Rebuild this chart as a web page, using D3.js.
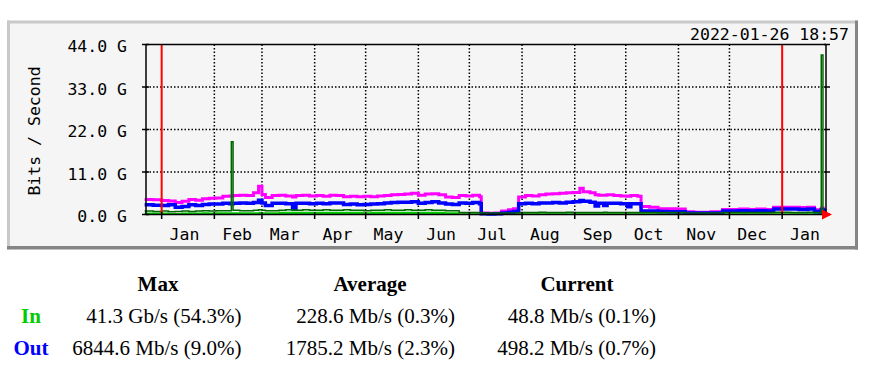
<!DOCTYPE html>
<html lang="en">
<head>
    <meta charset="UTF-8">
    <title>MRTG yearly graph</title>
    <style>
        body {
            margin: 0;
            background: #ffffff;
        }
        svg {
            display: block;
        }
        .mono {
            font-family: "DejaVu Sans Mono", monospace;
            font-size: 16.5px;
            fill: #000;
        }
        .serif {
            font-family: "Liberation Serif", "Times New Roman", serif;
            font-size: 21px;
            fill: #000;
        }
        .grid {
            stroke: #000;
            stroke-width: 1.5px;
            stroke-dasharray: 1.5, 2;
        }
        .axis {
            stroke: #000;
            stroke-width: 1.5px;
        }
    </style>
</head>
<body>

<div id="chart"></div>

<script src="https://d3js.org/d3.v7.min.js"></script>
<script>
    // sample days (one value per day bucket, held until the next one)
    const dates = [
        "2020-12-22", "2020-12-27", "2021-01-01", "2021-01-05", "2021-01-09",
        "2021-01-13", "2021-01-17", "2021-01-21", "2021-01-25", "2021-01-29",
        "2021-02-02", "2021-02-06", "2021-02-10", "2021-02-11", "2021-02-12",
        "2021-02-16", "2021-02-20", "2021-02-24", "2021-02-27", "2021-03-01",
        "2021-03-03", "2021-03-07", "2021-03-11", "2021-03-15", "2021-03-19",
        "2021-03-21", "2021-03-25", "2021-03-29", "2021-04-02", "2021-04-06",
        "2021-04-10", "2021-04-14", "2021-04-18", "2021-04-22", "2021-04-26",
        "2021-04-30", "2021-05-04", "2021-05-08", "2021-05-12", "2021-05-16",
        "2021-05-20", "2021-05-24", "2021-05-28", "2021-06-01", "2021-06-05",
        "2021-06-09", "2021-06-13", "2021-06-17", "2021-06-21", "2021-06-25",
        "2021-06-29", "2021-07-03", "2021-07-07", "2021-07-08", "2021-07-12",
        "2021-07-16", "2021-07-20", "2021-07-24", "2021-07-27", "2021-07-30",
        "2021-08-03", "2021-08-07", "2021-08-11", "2021-08-15", "2021-08-19",
        "2021-08-23", "2021-08-27", "2021-08-31", "2021-09-04", "2021-09-06",
        "2021-09-10", "2021-09-13", "2021-09-15", "2021-09-18", "2021-09-20",
        "2021-09-24", "2021-09-28", "2021-10-02", "2021-10-04", "2021-10-08",
        "2021-10-10", "2021-10-15", "2021-10-20", "2021-10-26", "2021-10-31",
        "2021-11-05", "2021-11-10", "2021-11-15", "2021-11-20", "2021-11-27",
        "2021-12-02", "2021-12-07", "2021-12-12", "2021-12-17", "2021-12-22",
        "2021-12-27", "2022-01-01", "2022-01-06", "2022-01-11", "2022-01-16",
        "2022-01-20", "2022-01-23", "2022-01-24", "2022-01-25", "2022-01-26"
    ];

    // Gb/s
    const outMax = [
        3.9, 3.8, 3.6, 3.5, 3.1, 3.4, 3.9, 3.7, 4.1, 4.2,
        4.3, 4.7, 4.8, 4.8, 4.9, 5.0, 4.9, 5.6, 7.3, 5.2,
        4.4, 4.9, 5.0, 4.8, 4.5, 4.9, 5.0, 4.8, 4.9, 4.7,
        5.0, 4.9, 4.6, 4.7, 4.6, 4.7, 4.6, 4.8, 4.9, 5.1,
        5.2, 5.3, 5.5, 5.0, 5.3, 5.4, 5.1, 4.5, 4.4, 4.9,
        4.8, 5.0, 4.6, 0.4, 0.3, 0.4, 0.9, 1.2, 1.5, 4.5,
        4.9, 4.8, 5.1, 5.3, 5.4, 5.5, 5.6, 5.7, 6.8, 5.9,
        5.6, 5.1, 5.0, 5.0, 5.1, 4.9, 4.8, 4.7, 4.9, 4.7,
        2.1, 1.9, 1.5, 1.5, 1.4, 0.7, 0.6, 0.6, 0.7, 1.3,
        1.3, 1.4, 1.3, 1.4, 1.3, 1.9, 1.9, 1.9, 1.8, 1.9,
        1.2, 1.1, 1.6, 1.7, 1.7
    ];
    const outAvg = [
        2.5, 2.4, 2.3, 2.5, 1.9, 2.1, 2.5, 2.3, 2.6, 2.7,
        2.7, 2.9, 2.8, 2.8, 2.9, 3.0, 2.9, 3.1, 3.7, 3.0,
        2.3, 2.9, 2.9, 2.8, 1.5, 2.9, 2.9, 2.8, 2.9, 2.8,
        3.0, 3.0, 2.6, 2.7, 2.5, 2.6, 2.7, 2.8, 3.0, 3.1,
        3.2, 3.2, 3.3, 2.9, 3.1, 3.3, 3.0, 2.7, 2.6, 3.0,
        2.9, 3.1, 2.8, 0.2, 0.15, 0.2, 0.4, 0.6, 0.8, 2.8,
        2.9, 2.8, 3.0, 3.0, 3.1, 3.0, 3.2, 3.3, 3.6, 3.4,
        3.2, 2.2, 2.9, 2.3, 2.9, 2.9, 2.8, 2.0, 2.8, 2.8,
        0.9, 0.9, 0.8, 0.7, 0.7, 0.4, 0.4, 0.4, 0.4, 0.9,
        0.9, 1.0, 0.9, 1.0, 0.9, 1.4, 1.4, 1.4, 1.3, 1.4,
        0.8, 0.7, 1.2, 1.1, 0.5
    ];
    const inMax = [
        0.9, 0.8, 0.9, 0.7, 0.8, 0.9, 0.8, 0.9, 1.0, 0.9,
        1.0, 1.0, 1.0, 18.8, 1.1, 1.0, 1.0, 1.1, 1.2, 1.1,
        1.0, 1.0, 1.1, 1.2, 1.1, 1.1, 1.2, 1.1, 1.1, 1.2,
        1.1, 1.1, 1.2, 1.1, 1.1, 1.0, 1.1, 1.1, 1.2, 1.1,
        1.1, 1.2, 1.1, 1.1, 1.2, 1.1, 1.1, 1.0, 1.0, 0.5,
        0.5, 0.5, 0.5, 0.4, 0.4, 0.4, 0.4, 0.4, 0.4, 0.5,
        0.5, 0.5, 0.6, 0.5, 0.5, 0.5, 0.6, 0.5, 0.5, 0.5,
        0.5, 0.5, 0.5, 0.6, 0.5, 0.5, 0.5, 0.5, 0.5, 0.5,
        0.5, 0.5, 0.5, 0.5, 0.5, 0.4, 0.4, 0.4, 0.4, 0.5,
        0.5, 0.5, 0.5, 0.5, 0.5, 0.6, 0.6, 0.5, 0.5, 0.6,
        0.5, 0.5, 41.3, 0.5, 0.4
    ];
    const inAvg = [
        0.5, 0.5, 0.5, 0.4, 0.4, 0.5, 0.5, 0.5, 0.6, 0.5,
        0.6, 0.6, 0.6, 0.6, 0.6, 0.6, 0.6, 0.6, 0.7, 0.6,
        0.6, 0.6, 0.7, 0.7, 0.7, 0.7, 0.7, 0.7, 0.7, 0.7,
        0.7, 0.7, 0.7, 0.7, 0.7, 0.6, 0.7, 0.7, 0.7, 0.7,
        0.7, 0.7, 0.7, 0.7, 0.7, 0.7, 0.7, 0.6, 0.6, 0.3,
        0.3, 0.3, 0.3, 0.2, 0.2, 0.2, 0.2, 0.2, 0.2, 0.3,
        0.3, 0.3, 0.3, 0.3, 0.3, 0.3, 0.3, 0.3, 0.3, 0.3,
        0.3, 0.3, 0.3, 0.3, 0.3, 0.3, 0.3, 0.3, 0.3, 0.3,
        0.3, 0.3, 0.3, 0.3, 0.3, 0.2, 0.2, 0.2, 0.2, 0.3,
        0.3, 0.3, 0.3, 0.3, 0.3, 0.3, 0.3, 0.3, 0.3, 0.3,
        0.3, 0.3, 0.3, 0.2, 0.05
    ];

    const yTicks = [0, 11, 22, 33, 44];
    const yTickLabels = ["0.0 G", "11.0 G", "22.0 G", "33.0 G", "44.0 G"];
    const monthLabels = ["Jan", "Feb", "Mar", "Apr", "May", "Jun", "Jul",
                         "Aug", "Sep", "Oct", "Nov", "Dec", "Jan"];
    const yTitle = "Bits / Second";
    const stamp = "2022-01-26 18:57";

    const statHeaders = ["Max", "Average", "Current"];
    const statRows = [
        {name: "In", color: "#00cc00",
         values: ["41.3 Gb/s (54.3%)", "228.6 Mb/s (0.3%)", "48.8 Mb/s (0.1%)"]},
        {name: "Out", color: "#0000ff",
         values: ["6844.6 Mb/s (9.0%)", "1785.2 Mb/s (2.3%)", "498.2 Mb/s (0.7%)"]}
    ];

    const width = 889;
    const height = 375;

    const parse = d3.timeParse("%Y-%m-%d");
    const series = dates.map((d, i) => ({
        date: parse(d),
        outMax: outMax[i],
        outAvg: outAvg[i],
        inMax: inMax[i],
        inAvg: inAvg[i]
    }));

    const svg = d3.select("#chart")
        .append("svg")
        .attr("width", width)
        .attr("height", height);

    // grey bevelled panel
    svg.append("rect").attr("x", 7).attr("y", 21).attr("width", 851).attr("height", 228)
        .attr("fill", "#f5f5f5");
    svg.append("rect").attr("x", 7).attr("y", 20.5).attr("width", 851).attr("height", 3)
        .attr("fill", "#c9c9c9");
    svg.append("rect").attr("x", 7).attr("y", 20.5).attr("width", 3).attr("height", 229)
        .attr("fill", "#c9c9c9");
    svg.append("rect").attr("x", 7).attr("y", 246).attr("width", 851).attr("height", 3.5)
        .attr("fill", "#858585");
    svg.append("rect").attr("x", 855).attr("y", 20.5).attr("width", 3).attr("height", 229)
        .attr("fill", "#858585");

    const x = d3.scaleTime()
        .domain([new Date(2020, 11, 22, 18, 57), new Date(2022, 0, 26, 18, 57)])
        .range([146, 826]);
    const y = d3.scaleLinear()
        .domain([0, 44])
        .range([214.5, 44.5]);

    const [x0, x1] = x.range();
    const monthStarts = d3.timeMonth.range(new Date(2021, 0, 1), new Date(2022, 0, 2));
    const labelDays = monthStarts.map(m => d3.timeDay.offset(m, 14));

    // dotted grid
    svg.selectAll(".hgrid")
        .data(yTicks.filter(v => v > 0 && v < 44))
        .enter().append("line")
        .attr("class", "grid")
        .attr("x1", x0).attr("x2", x1)
        .attr("y1", d => y(d)).attr("y2", d => y(d));

    svg.selectAll(".vgrid")
        .data(monthStarts.filter(m => m.getMonth() !== 0))
        .enter().append("line")
        .attr("class", "grid")
        .attr("x1", d => x(d)).attr("x2", d => x(d))
        .attr("y1", y(44)).attr("y2", y(0));

    // traffic
    svg.append("path")
        .datum(series)
        .attr("fill", "#00cc00")
        .attr("d", d3.area().curve(d3.curveStepAfter)
            .x(d => x(d.date)).y0(y(0)).y1(d => y(d.inAvg)));

    svg.append("path")
        .datum(series)
        .attr("fill", "none")
        .attr("stroke", "#ff00ff")
        .attr("stroke-width", 3)
        .attr("d", d3.line().curve(d3.curveStepAfter)
            .x(d => x(d.date)).y(d => y(d.outMax)));

    svg.append("path")
        .datum(series)
        .attr("fill", "none")
        .attr("stroke", "#0000ff")
        .attr("stroke-width", 3.5)
        .attr("d", d3.line().curve(d3.curveStepAfter)
            .x(d => x(d.date)).y(d => y(d.outAvg)));

    svg.append("path")
        .datum(series)
        .attr("fill", "none")
        .attr("stroke", "#006600")
        .attr("stroke-width", 1.5)
        .attr("d", d3.line().curve(d3.curveStepAfter)
            .x(d => x(d.date)).y(d => y(d.inMax)));

    // new year markers
    svg.selectAll(".year")
        .data(monthStarts.filter(m => m.getMonth() === 0))
        .enter().append("line")
        .attr("stroke", "#ff0000")
        .attr("stroke-width", 2)
        .attr("x1", d => x(d)).attr("x2", d => x(d))
        .attr("y1", y(44)).attr("y2", y(0));

    // frame and ticks
    svg.append("line").attr("class", "axis")
        .attr("x1", x0).attr("x2", x0).attr("y1", y(44)).attr("y2", y(0));
    svg.append("line").attr("class", "axis")
        .attr("x1", x1).attr("x2", x1).attr("y1", y(44)).attr("y2", y(0));
    svg.append("line").attr("class", "axis")
        .attr("x1", x0).attr("x2", x1).attr("y1", y(44)).attr("y2", y(44));
    svg.append("line").attr("class", "axis")
        .attr("x1", x0).attr("x2", x1).attr("y1", y(0)).attr("y2", y(0));

    svg.selectAll(".ltick")
        .data(yTicks)
        .enter().append("line").attr("class", "axis")
        .attr("x1", x0 - 4).attr("x2", x0 + 3)
        .attr("y1", d => y(d)).attr("y2", d => y(d));
    svg.selectAll(".rtick")
        .data(yTicks)
        .enter().append("line").attr("class", "axis")
        .attr("x1", x1 - 2).attr("x2", x1 + 4)
        .attr("y1", d => y(d)).attr("y2", d => y(d));
    svg.selectAll(".btick")
        .data(monthStarts)
        .enter().append("line").attr("class", "axis")
        .attr("x1", d => x(d)).attr("x2", d => x(d))
        .attr("y1", y(0) - 2.5).attr("y2", y(0) + 4.5);

    // arrow at the end of the time axis
    svg.append("path")
        .attr("fill", "#ff0000")
        .attr("d", `M${x1 - 4},${y(0) - 5}L${x1 + 6},${y(0)}L${x1 - 4},${y(0) + 5}Z`);

    // labels
    svg.selectAll(".ylabel")
        .data(yTicks)
        .enter().append("text")
        .attr("class", "mono")
        .attr("x", 127)
        .attr("y", d => y(d) + 7.5)
        .attr("text-anchor", "end")
        .text((d, i) => yTickLabels[i]);

    svg.selectAll(".xlabel")
        .data(labelDays)
        .enter().append("text")
        .attr("class", "mono")
        .attr("x", d => x(d) - 1)
        .attr("y", 240)
        .attr("text-anchor", "middle")
        .text((d, i) => monthLabels[i]);

    svg.append("text")
        .attr("class", "mono")
        .attr("transform", "translate(39.5,131) rotate(-90)")
        .attr("text-anchor", "middle")
        .text(yTitle);

    svg.append("text")
        .attr("class", "mono")
        .attr("x", 849)
        .attr("y", 40)
        .attr("text-anchor", "end")
        .text(stamp);

    // summary table
    const colCenter = [158, 370, 577];
    const colRight = [241.5, 455, 656];
    const rowBase = [323, 355];

    svg.selectAll(".head")
        .data(statHeaders)
        .enter().append("text")
        .attr("class", "serif")
        .attr("font-weight", "bold")
        .attr("x", (d, i) => colCenter[i])
        .attr("y", 291)
        .attr("text-anchor", "middle")
        .text(d => d);

    statRows.forEach((row, r) => {
        svg.append("text")
            .attr("class", "serif")
            .attr("font-weight", "bold")
            .attr("x", 31)
            .attr("y", rowBase[r])
            .attr("text-anchor", "middle")
            .style("fill", row.color)
            .text(row.name);

        svg.selectAll(".val" + r)
            .data(row.values)
            .enter().append("text")
            .attr("class", "serif")
            .attr("x", (d, i) => colRight[i])
            .attr("y", rowBase[r])
            .attr("text-anchor", "end")
            .text(d => d);
    });
</script>
</body>
</html>
